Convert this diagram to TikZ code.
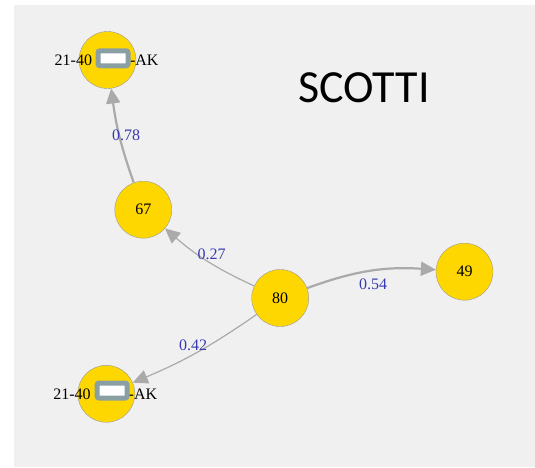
\documentclass[tikz,border=0pt]{standalone}
\usepackage{fontspec}
\setmainfont{Liberation Serif}
\newfontfamily\titlefont{Carlito}
\usetikzlibrary{arrows.meta}
\definecolor{bggray}{HTML}{F0F0F0}
\definecolor{nodegold}{HTML}{FFD700}
\definecolor{rimgray}{HTML}{999999}
\definecolor{edgegray}{HTML}{AAAAAA}
\definecolor{weightblue}{HTML}{3A3AB0}
\definecolor{redactgray}{HTML}{8A9FA3}

\begin{document}
\begin{tikzpicture}[x=1pt, y=1pt,
  every node/.style={font=\fontsize{16}{18}\selectfont},
  person/.style={circle, draw=rimgray, fill=nodegold, minimum size=57pt, inner sep=0pt},
  weight/.style={text=weightblue, inner sep=0pt},
  link/.style={draw=edgegray, line width=1.2pt, -{Triangle[length=15pt, width=14pt]}},
  redact/.style={draw=redactgray, line width=5pt, fill=white, rounded corners=2pt, minimum width=30pt, minimum height=15pt, inner sep=0pt}]

\useasboundingbox (0,0) rectangle (535,467);
\fill[bggray] (14,0) rectangle (535,462);

\node[person] (akt) at (107.5,407) {};
\node[person] (n67) at (143.3,257.3) {67};
\node[person] (n80) at (280.2,169) {80};
\node[person] (n49) at (464.5,195.3) {49};
\node[person] (akb) at (106.3,73.2) {};

\draw[link, line width=2.2pt] (n67) to[bend left=6] (akt);
\draw[link] (n80) to[bend left=8] (n67);
\draw[link, line width=2.2pt] (n80) to[bend left=12] (n49);
\draw[link] (n80) to[bend left=6] (akb);

\node (akttext) at (106.6,407) {21-40\hspace{38pt}-AK};
\node[redact] (aktbox) at (113,408.7) {};
\node (akbtext) at (105.3,73.2) {21-40\hspace{38pt}-AK};
\node[redact] (akbbox) at (112.1,76.5) {};

\node[weight] (w78) at (126,331.5) {0.78};
\node[weight] (w27) at (211.6,213) {0.27};
\node[weight] (w54) at (373,182.5) {0.54};
\node[weight] (w42) at (193,121.5) {0.42};

\node[font=\titlefont\fontsize{46}{50}\selectfont] (title) at (364,379) {SCOTTI};

\end{tikzpicture}
\end{document}
